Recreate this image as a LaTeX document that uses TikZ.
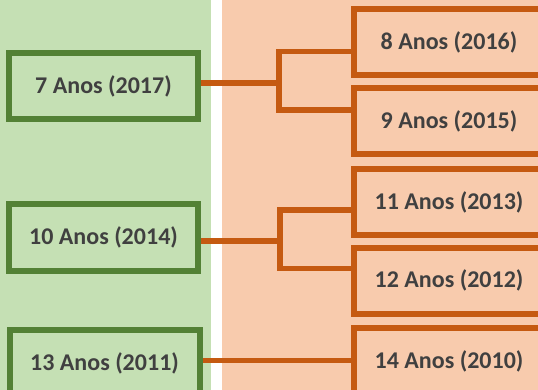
\documentclass[tikz,border=0pt]{standalone}
\usepackage{fontspec}
\setmainfont{Carlito}
\definecolor{gbg}{HTML}{C5E0B4}
\definecolor{obg}{HTML}{F8CBAD}
\definecolor{gline}{HTML}{538135}
\definecolor{oline}{HTML}{C55A11}
\definecolor{txt}{HTML}{404040}
\tikzset{
  gbox/.style={draw=gline, line width=6pt, minimum width=189pt, minimum height=66pt, inner sep=0pt,
    font=\fontsize{24}{28}\selectfont\bfseries, text=txt},
  obox/.style={draw=oline, line width=6pt, minimum width=190pt, minimum height=66pt, inner sep=0pt,
    font=\fontsize{24}{28}\selectfont\bfseries, text=txt},
  conn/.style={draw=oline, line width=5.5pt, line join=miter}
}
\begin{document}
\begin{tikzpicture}[x=1pt,y=-1pt]
\useasboundingbox (0,0) rectangle (538,390);
\clip (0,0) rectangle (538,390);
\fill[white] (0,0) rectangle (538,390);
\fill[gbg] (0,0) rectangle (211,390);
\fill[obg] (222,0) rectangle (538,390);
% green nodes
\node[gbox] (g7)  at (103.5,86)   {7 Anos (2017)};
\node[gbox] (g10) at (103.5,237.5) {10 Anos (2014)};
\node[gbox, minimum width=190pt] (g13) at (104.5,363) {13 Anos (2011)};
% orange nodes
\node[obox] (o8)  at (449,42)    {8 Anos (2016)};
\node[obox] (o9)  at (449,121)   {9 Anos (2015)};
\node[obox] (o11) at (449,202)   {11 Anos (2013)};
\node[obox] (o12) at (449,280.5) {12 Anos (2012)};
\node[obox] (o14) at (449,361)   {14 Anos (2010)};
% bracket coordinates
\coordinate (b1) at (279,83);
\coordinate (b2) at (280,241);
% connectors
\draw[conn] (g7.east |- b1) -- (b1);
\draw[conn] (o8.west |- 0,51.5) -- (b1 |- 0,51.5) -- (b1 |- 0,110) -- (o9.west |- 0,110);
\draw[conn] (g10.east |- b2) -- (b2);
\draw[conn] (o11.west |- 0,210) -- (b2 |- 0,210) -- (b2 |- 0,268.5) -- (o12.west |- 0,268.5);
\draw[conn] (g13.east |- 0,360.5) -- (o14.west |- 0,360.5);
\end{tikzpicture}
\end{document}
